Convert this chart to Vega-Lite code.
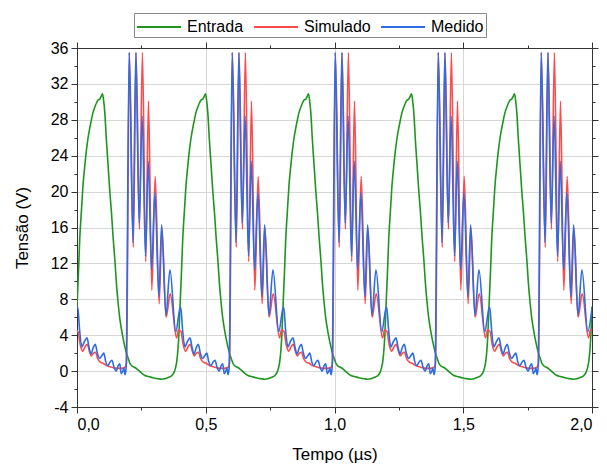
{
"$schema": "https://vega.github.io/schema/vega-lite/v6.json",
"width": 515, "height": 359,
"autosize": {"type": "none"},
"padding": {"left": 77, "top": 48, "right": 15, "bottom": 66},
"background": "white",
"config": {"view": {"stroke": null}, "font": "Liberation Sans",
  "axis": {"labelFont": "Liberation Sans", "titleFont": "Liberation Sans", "labelColor": "#000", "titleColor": "#000", "titleFontWeight": "normal", "domainColor": "#333", "tickColor": "#333", "gridColor": "#d6d6d6", "gridWidth": 1}},
"datasets": {
"entrada": [
{"t":0,"v":7.2},{"t":0.005,"v":10.5},{"t":0.0105,"v":14.6},{"t":0.017,"v":17.8},{"t":0.023,"v":20.6},{"t":0.03,"v":22.8},{"t":0.037,"v":24.7},{"t":0.043,"v":26},{"t":0.049,"v":27},{"t":0.056,"v":28},{"t":0.062,"v":28.8},{"t":0.069,"v":29.4},{"t":0.076,"v":29.9},{"t":0.082,"v":30.2},{"t":0.088,"v":30.3},{"t":0.094,"v":30.6},{"t":0.099,"v":30.9},{"t":0.104,"v":30},{"t":0.108,"v":28.8},{"t":0.114,"v":25.8},{"t":0.121,"v":22.8},{"t":0.127,"v":20.2},{"t":0.134,"v":17.6},{"t":0.14,"v":15},{"t":0.147,"v":12.4},{"t":0.153,"v":9.8},{"t":0.16,"v":7.5},{"t":0.166,"v":5.9},{"t":0.173,"v":4.6},{"t":0.18,"v":3.5},{"t":0.186,"v":2.7},{"t":0.193,"v":1.9},{"t":0.199,"v":1.4},{"t":0.205,"v":0.9},{"t":0.212,"v":0.6},{"t":0.225,"v":0.4},{"t":0.238,"v":0.1},{"t":0.25,"v":-0.2},{"t":0.264,"v":-0.5},{"t":0.277,"v":-0.6},{"t":0.29,"v":-0.7},{"t":0.303,"v":-0.8},{"t":0.315,"v":-0.85},{"t":0.328,"v":-0.9},{"t":0.342,"v":-0.85},{"t":0.355,"v":-0.7},{"t":0.368,"v":-0.5},{"t":0.376,"v":-0.2},{"t":0.382,"v":0.3},{"t":0.387,"v":1},{"t":0.392,"v":2.4},{"t":0.396,"v":4.3},
{"t":0.4,"v":7.2},{"t":0.405,"v":10.5},{"t":0.4105,"v":14.6},{"t":0.417,"v":17.8},{"t":0.423,"v":20.6},{"t":0.43,"v":22.8},{"t":0.437,"v":24.7},{"t":0.443,"v":26},{"t":0.449,"v":27},{"t":0.456,"v":28},{"t":0.462,"v":28.8},{"t":0.469,"v":29.4},{"t":0.476,"v":29.9},{"t":0.482,"v":30.2},{"t":0.488,"v":30.3},{"t":0.494,"v":30.6},{"t":0.499,"v":30.9},{"t":0.504,"v":30},{"t":0.508,"v":28.8},{"t":0.514,"v":25.8},{"t":0.521,"v":22.8},{"t":0.527,"v":20.2},{"t":0.534,"v":17.6},{"t":0.54,"v":15},{"t":0.547,"v":12.4},{"t":0.553,"v":9.8},{"t":0.56,"v":7.5},{"t":0.566,"v":5.9},{"t":0.573,"v":4.6},{"t":0.58,"v":3.5},{"t":0.586,"v":2.7},{"t":0.593,"v":1.9},{"t":0.599,"v":1.4},{"t":0.605,"v":0.9},{"t":0.612,"v":0.6},{"t":0.625,"v":0.4},{"t":0.638,"v":0.1},{"t":0.65,"v":-0.2},{"t":0.664,"v":-0.5},{"t":0.677,"v":-0.6},{"t":0.69,"v":-0.7},{"t":0.703,"v":-0.8},{"t":0.715,"v":-0.85},{"t":0.728,"v":-0.9},{"t":0.742,"v":-0.85},{"t":0.755,"v":-0.7},{"t":0.768,"v":-0.5},{"t":0.776,"v":-0.2},{"t":0.782,"v":0.3},{"t":0.787,"v":1},{"t":0.792,"v":2.4},{"t":0.796,"v":4.3},
{"t":0.8,"v":7.2},{"t":0.805,"v":10.5},{"t":0.8105,"v":14.6},{"t":0.817,"v":17.8},{"t":0.823,"v":20.6},{"t":0.83,"v":22.8},{"t":0.837,"v":24.7},{"t":0.843,"v":26},{"t":0.849,"v":27},{"t":0.856,"v":28},{"t":0.862,"v":28.8},{"t":0.869,"v":29.4},{"t":0.876,"v":29.9},{"t":0.882,"v":30.2},{"t":0.888,"v":30.3},{"t":0.894,"v":30.6},{"t":0.899,"v":30.9},{"t":0.904,"v":30},{"t":0.908,"v":28.8},{"t":0.914,"v":25.8},{"t":0.921,"v":22.8},{"t":0.927,"v":20.2},{"t":0.934,"v":17.6},{"t":0.94,"v":15},{"t":0.947,"v":12.4},{"t":0.953,"v":9.8},{"t":0.96,"v":7.5},{"t":0.966,"v":5.9},{"t":0.973,"v":4.6},{"t":0.98,"v":3.5},{"t":0.986,"v":2.7},{"t":0.993,"v":1.9},{"t":0.999,"v":1.4},{"t":1.005,"v":0.9},{"t":1.012,"v":0.6},{"t":1.025,"v":0.4},{"t":1.038,"v":0.1},{"t":1.05,"v":-0.2},{"t":1.064,"v":-0.5},{"t":1.077,"v":-0.6},{"t":1.09,"v":-0.7},{"t":1.103,"v":-0.8},{"t":1.115,"v":-0.85},{"t":1.128,"v":-0.9},{"t":1.142,"v":-0.85},{"t":1.155,"v":-0.7},{"t":1.168,"v":-0.5},{"t":1.176,"v":-0.2},{"t":1.182,"v":0.3},{"t":1.187,"v":1},{"t":1.192,"v":2.4},{"t":1.196,"v":4.3},
{"t":1.2,"v":7.2},{"t":1.205,"v":10.5},{"t":1.2105,"v":14.6},{"t":1.217,"v":17.8},{"t":1.223,"v":20.6},{"t":1.23,"v":22.8},{"t":1.237,"v":24.7},{"t":1.243,"v":26},{"t":1.249,"v":27},{"t":1.256,"v":28},{"t":1.262,"v":28.8},{"t":1.269,"v":29.4},{"t":1.276,"v":29.9},{"t":1.282,"v":30.2},{"t":1.288,"v":30.3},{"t":1.294,"v":30.6},{"t":1.299,"v":30.9},{"t":1.304,"v":30},{"t":1.308,"v":28.8},{"t":1.314,"v":25.8},{"t":1.321,"v":22.8},{"t":1.327,"v":20.2},{"t":1.334,"v":17.6},{"t":1.34,"v":15},{"t":1.347,"v":12.4},{"t":1.353,"v":9.8},{"t":1.36,"v":7.5},{"t":1.366,"v":5.9},{"t":1.373,"v":4.6},{"t":1.38,"v":3.5},{"t":1.386,"v":2.7},{"t":1.393,"v":1.9},{"t":1.399,"v":1.4},{"t":1.405,"v":0.9},{"t":1.412,"v":0.6},{"t":1.425,"v":0.4},{"t":1.438,"v":0.1},{"t":1.45,"v":-0.2},{"t":1.464,"v":-0.5},{"t":1.477,"v":-0.6},{"t":1.49,"v":-0.7},{"t":1.503,"v":-0.8},{"t":1.515,"v":-0.85},{"t":1.528,"v":-0.9},{"t":1.542,"v":-0.85},{"t":1.555,"v":-0.7},{"t":1.568,"v":-0.5},{"t":1.576,"v":-0.2},{"t":1.582,"v":0.3},{"t":1.587,"v":1},{"t":1.592,"v":2.4},{"t":1.596,"v":4.3},
{"t":1.6,"v":7.2},{"t":1.605,"v":10.5},{"t":1.6105,"v":14.6},{"t":1.617,"v":17.8},{"t":1.623,"v":20.6},{"t":1.63,"v":22.8},{"t":1.637,"v":24.7},{"t":1.643,"v":26},{"t":1.649,"v":27},{"t":1.656,"v":28},{"t":1.662,"v":28.8},{"t":1.669,"v":29.4},{"t":1.676,"v":29.9},{"t":1.682,"v":30.2},{"t":1.688,"v":30.3},{"t":1.694,"v":30.6},{"t":1.699,"v":30.9},{"t":1.704,"v":30},{"t":1.708,"v":28.8},{"t":1.714,"v":25.8},{"t":1.721,"v":22.8},{"t":1.727,"v":20.2},{"t":1.734,"v":17.6},{"t":1.74,"v":15},{"t":1.747,"v":12.4},{"t":1.753,"v":9.8},{"t":1.76,"v":7.5},{"t":1.766,"v":5.9},{"t":1.773,"v":4.6},{"t":1.78,"v":3.5},{"t":1.786,"v":2.7},{"t":1.793,"v":1.9},{"t":1.799,"v":1.4},{"t":1.805,"v":0.9},{"t":1.812,"v":0.6},{"t":1.825,"v":0.4},{"t":1.838,"v":0.1},{"t":1.85,"v":-0.2},{"t":1.864,"v":-0.5},{"t":1.877,"v":-0.6},{"t":1.89,"v":-0.7},{"t":1.903,"v":-0.8},{"t":1.915,"v":-0.85},{"t":1.928,"v":-0.9},{"t":1.942,"v":-0.85},{"t":1.955,"v":-0.7},{"t":1.968,"v":-0.5},{"t":1.976,"v":-0.2},{"t":1.982,"v":0.3},{"t":1.987,"v":1},{"t":1.992,"v":2.4},{"t":1.996,"v":4.3},
{"t":2.0,"v":7.2}
],
"simulado": [
{"t":0,"v":4.5},{"t":0.004,"v":4.4},{"t":0.012,"v":3},{"t":0.022,"v":2.2},{"t":0.031,"v":2.7},{"t":0.04,"v":3},{"t":0.048,"v":2.2},{"t":0.056,"v":1.7},{"t":0.064,"v":2},{"t":0.072,"v":2.1},{"t":0.08,"v":1.4},{"t":0.09,"v":1},{"t":0.1,"v":0.9},{"t":0.11,"v":0.7},{"t":0.125,"v":0.5},{"t":0.14,"v":0.4},{"t":0.155,"v":0.3},{"t":0.17,"v":0.3},{"t":0.185,"v":0.4},{"t":0.192,"v":0.8},{"t":0.2035,"v":35.5},{"t":0.2185,"v":13.8},{"t":0.2295,"v":35.5},{"t":0.2425,"v":15.8},{"t":0.254,"v":35.5},{"t":0.267,"v":12.2},{"t":0.2776,"v":30.1},{"t":0.2905,"v":9},{"t":0.3036,"v":21.7},{"t":0.319,"v":7.5},{"t":0.3296,"v":16},{"t":0.346,"v":6},{"t":0.362,"v":8.6},{"t":0.3865,"v":3.7},{"t":0.394,"v":4.6},
{"t":0.4,"v":4.5},{"t":0.404,"v":4.4},{"t":0.412,"v":3},{"t":0.422,"v":2.2},{"t":0.431,"v":2.7},{"t":0.44,"v":3},{"t":0.448,"v":2.2},{"t":0.456,"v":1.7},{"t":0.464,"v":2},{"t":0.472,"v":2.1},{"t":0.48,"v":1.4},{"t":0.49,"v":1},{"t":0.5,"v":0.9},{"t":0.51,"v":0.7},{"t":0.525,"v":0.5},{"t":0.54,"v":0.4},{"t":0.555,"v":0.3},{"t":0.57,"v":0.3},{"t":0.585,"v":0.4},{"t":0.592,"v":0.8},{"t":0.6035,"v":35.5},{"t":0.6185,"v":13.8},{"t":0.6295,"v":35.5},{"t":0.6425,"v":15.8},{"t":0.654,"v":35.5},{"t":0.667,"v":12.2},{"t":0.6776,"v":30.1},{"t":0.6905,"v":9},{"t":0.7036,"v":21.7},{"t":0.719,"v":7.5},{"t":0.7296,"v":16},{"t":0.746,"v":6},{"t":0.762,"v":8.6},{"t":0.7865,"v":3.7},{"t":0.794,"v":4.6},
{"t":0.8,"v":4.5},{"t":0.804,"v":4.4},{"t":0.812,"v":3},{"t":0.822,"v":2.2},{"t":0.831,"v":2.7},{"t":0.84,"v":3},{"t":0.848,"v":2.2},{"t":0.856,"v":1.7},{"t":0.864,"v":2},{"t":0.872,"v":2.1},{"t":0.88,"v":1.4},{"t":0.89,"v":1},{"t":0.9,"v":0.9},{"t":0.91,"v":0.7},{"t":0.925,"v":0.5},{"t":0.94,"v":0.4},{"t":0.955,"v":0.3},{"t":0.97,"v":0.3},{"t":0.985,"v":0.4},{"t":0.992,"v":0.8},{"t":1.0035,"v":35.5},{"t":1.0185,"v":13.8},{"t":1.0295,"v":35.5},{"t":1.0425,"v":15.8},{"t":1.054,"v":35.5},{"t":1.067,"v":12.2},{"t":1.0776,"v":30.1},{"t":1.0905,"v":9},{"t":1.1036,"v":21.7},{"t":1.119,"v":7.5},{"t":1.1296,"v":16},{"t":1.146,"v":6},{"t":1.162,"v":8.6},{"t":1.1865,"v":3.7},{"t":1.194,"v":4.6},
{"t":1.2,"v":4.5},{"t":1.204,"v":4.4},{"t":1.212,"v":3},{"t":1.222,"v":2.2},{"t":1.231,"v":2.7},{"t":1.24,"v":3},{"t":1.248,"v":2.2},{"t":1.256,"v":1.7},{"t":1.264,"v":2},{"t":1.272,"v":2.1},{"t":1.28,"v":1.4},{"t":1.29,"v":1},{"t":1.3,"v":0.9},{"t":1.31,"v":0.7},{"t":1.325,"v":0.5},{"t":1.34,"v":0.4},{"t":1.355,"v":0.3},{"t":1.37,"v":0.3},{"t":1.385,"v":0.4},{"t":1.392,"v":0.8},{"t":1.4035,"v":35.5},{"t":1.4185,"v":13.8},{"t":1.4295,"v":35.5},{"t":1.4425,"v":15.8},{"t":1.454,"v":35.5},{"t":1.467,"v":12.2},{"t":1.4776,"v":30.1},{"t":1.4905,"v":9},{"t":1.5036,"v":21.7},{"t":1.519,"v":7.5},{"t":1.5296,"v":16},{"t":1.546,"v":6},{"t":1.562,"v":8.6},{"t":1.5865,"v":3.7},{"t":1.594,"v":4.6},
{"t":1.6,"v":4.5},{"t":1.604,"v":4.4},{"t":1.612,"v":3},{"t":1.622,"v":2.2},{"t":1.631,"v":2.7},{"t":1.64,"v":3},{"t":1.648,"v":2.2},{"t":1.656,"v":1.7},{"t":1.664,"v":2},{"t":1.672,"v":2.1},{"t":1.68,"v":1.4},{"t":1.69,"v":1},{"t":1.7,"v":0.9},{"t":1.71,"v":0.7},{"t":1.725,"v":0.5},{"t":1.74,"v":0.4},{"t":1.755,"v":0.3},{"t":1.77,"v":0.3},{"t":1.785,"v":0.4},{"t":1.792,"v":0.8},{"t":1.8035,"v":35.5},{"t":1.8185,"v":13.8},{"t":1.8295,"v":35.5},{"t":1.8425,"v":15.8},{"t":1.854,"v":35.5},{"t":1.867,"v":12.2},{"t":1.8776,"v":30.1},{"t":1.8905,"v":9},{"t":1.9036,"v":21.7},{"t":1.919,"v":7.5},{"t":1.9296,"v":16},{"t":1.946,"v":6},{"t":1.962,"v":8.6},{"t":1.9865,"v":3.7},{"t":1.994,"v":4.6},
{"t":2.0,"v":4.5}
],
"medido": [
{"t":0,"v":7},{"t":0.003,"v":7.1},{"t":0.01,"v":4.6},{"t":0.019,"v":2.7},{"t":0.029,"v":3.3},{"t":0.039,"v":3.7},{"t":0.047,"v":2.6},{"t":0.0545,"v":1.9},{"t":0.063,"v":2.6},{"t":0.071,"v":3},{"t":0.079,"v":2},{"t":0.088,"v":1.4},{"t":0.096,"v":1.7},{"t":0.104,"v":2},{"t":0.112,"v":1},{"t":0.12,"v":0.6},{"t":0.128,"v":1},{"t":0.136,"v":1.2},{"t":0.144,"v":0.4},{"t":0.152,"v":0},{"t":0.16,"v":0.6},{"t":0.166,"v":0.8},{"t":0.172,"v":-0.3},{"t":0.178,"v":0},{"t":0.182,"v":0.3},{"t":0.187,"v":-0.4},{"t":0.191,"v":0.5},{"t":0.2025,"v":35.5},{"t":0.2175,"v":14.3},{"t":0.2285,"v":35.5},{"t":0.2415,"v":16.5},{"t":0.253,"v":28.4},{"t":0.266,"v":12.8},{"t":0.2766,"v":23.4},{"t":0.2897,"v":11.3},{"t":0.3026,"v":19.9},{"t":0.318,"v":8.3},{"t":0.3286,"v":16.3},{"t":0.3454,"v":6.2},{"t":0.361,"v":11.3},{"t":0.3835,"v":4.4},
{"t":0.4,"v":7},{"t":0.403,"v":7.1},{"t":0.41,"v":4.6},{"t":0.419,"v":2.7},{"t":0.429,"v":3.3},{"t":0.439,"v":3.7},{"t":0.447,"v":2.6},{"t":0.4545,"v":1.9},{"t":0.463,"v":2.6},{"t":0.471,"v":3},{"t":0.479,"v":2},{"t":0.488,"v":1.4},{"t":0.496,"v":1.7},{"t":0.504,"v":2},{"t":0.512,"v":1},{"t":0.52,"v":0.6},{"t":0.528,"v":1},{"t":0.536,"v":1.2},{"t":0.544,"v":0.4},{"t":0.552,"v":0},{"t":0.56,"v":0.6},{"t":0.566,"v":0.8},{"t":0.572,"v":-0.3},{"t":0.578,"v":0},{"t":0.582,"v":0.3},{"t":0.587,"v":-0.4},{"t":0.591,"v":0.5},{"t":0.6025,"v":35.5},{"t":0.6175,"v":14.3},{"t":0.6285,"v":35.5},{"t":0.6415,"v":16.5},{"t":0.653,"v":28.4},{"t":0.666,"v":12.8},{"t":0.6766,"v":23.4},{"t":0.6897,"v":11.3},{"t":0.7026,"v":19.9},{"t":0.718,"v":8.3},{"t":0.7286,"v":16.3},{"t":0.7454,"v":6.2},{"t":0.761,"v":11.3},{"t":0.7835,"v":4.4},
{"t":0.8,"v":7},{"t":0.803,"v":7.1},{"t":0.81,"v":4.6},{"t":0.819,"v":2.7},{"t":0.829,"v":3.3},{"t":0.839,"v":3.7},{"t":0.847,"v":2.6},{"t":0.8545,"v":1.9},{"t":0.863,"v":2.6},{"t":0.871,"v":3},{"t":0.879,"v":2},{"t":0.888,"v":1.4},{"t":0.896,"v":1.7},{"t":0.904,"v":2},{"t":0.912,"v":1},{"t":0.92,"v":0.6},{"t":0.928,"v":1},{"t":0.936,"v":1.2},{"t":0.944,"v":0.4},{"t":0.952,"v":0},{"t":0.96,"v":0.6},{"t":0.966,"v":0.8},{"t":0.972,"v":-0.3},{"t":0.978,"v":0},{"t":0.982,"v":0.3},{"t":0.987,"v":-0.4},{"t":0.991,"v":0.5},{"t":1.0025,"v":35.5},{"t":1.0175,"v":14.3},{"t":1.0285,"v":35.5},{"t":1.0415,"v":16.5},{"t":1.053,"v":28.4},{"t":1.066,"v":12.8},{"t":1.0766,"v":23.4},{"t":1.0897,"v":11.3},{"t":1.1026,"v":19.9},{"t":1.118,"v":8.3},{"t":1.1286,"v":16.3},{"t":1.1454,"v":6.2},{"t":1.161,"v":11.3},{"t":1.1835,"v":4.4},
{"t":1.2,"v":7},{"t":1.203,"v":7.1},{"t":1.21,"v":4.6},{"t":1.219,"v":2.7},{"t":1.229,"v":3.3},{"t":1.239,"v":3.7},{"t":1.247,"v":2.6},{"t":1.2545,"v":1.9},{"t":1.263,"v":2.6},{"t":1.271,"v":3},{"t":1.279,"v":2},{"t":1.288,"v":1.4},{"t":1.296,"v":1.7},{"t":1.304,"v":2},{"t":1.312,"v":1},{"t":1.32,"v":0.6},{"t":1.328,"v":1},{"t":1.336,"v":1.2},{"t":1.344,"v":0.4},{"t":1.352,"v":0},{"t":1.36,"v":0.6},{"t":1.366,"v":0.8},{"t":1.372,"v":-0.3},{"t":1.378,"v":0},{"t":1.382,"v":0.3},{"t":1.387,"v":-0.4},{"t":1.391,"v":0.5},{"t":1.4025,"v":35.5},{"t":1.4175,"v":14.3},{"t":1.4285,"v":35.5},{"t":1.4415,"v":16.5},{"t":1.453,"v":28.4},{"t":1.466,"v":12.8},{"t":1.4766,"v":23.4},{"t":1.4897,"v":11.3},{"t":1.5026,"v":19.9},{"t":1.518,"v":8.3},{"t":1.5286,"v":16.3},{"t":1.5454,"v":6.2},{"t":1.561,"v":11.3},{"t":1.5835,"v":4.4},
{"t":1.6,"v":7},{"t":1.603,"v":7.1},{"t":1.61,"v":4.6},{"t":1.619,"v":2.7},{"t":1.629,"v":3.3},{"t":1.639,"v":3.7},{"t":1.647,"v":2.6},{"t":1.6545,"v":1.9},{"t":1.663,"v":2.6},{"t":1.671,"v":3},{"t":1.679,"v":2},{"t":1.688,"v":1.4},{"t":1.696,"v":1.7},{"t":1.704,"v":2},{"t":1.712,"v":1},{"t":1.72,"v":0.6},{"t":1.728,"v":1},{"t":1.736,"v":1.2},{"t":1.744,"v":0.4},{"t":1.752,"v":0},{"t":1.76,"v":0.6},{"t":1.766,"v":0.8},{"t":1.772,"v":-0.3},{"t":1.778,"v":0},{"t":1.782,"v":0.3},{"t":1.787,"v":-0.4},{"t":1.791,"v":0.5},{"t":1.8025,"v":35.5},{"t":1.8175,"v":14.3},{"t":1.8285,"v":35.5},{"t":1.8415,"v":16.5},{"t":1.853,"v":28.4},{"t":1.866,"v":12.8},{"t":1.8766,"v":23.4},{"t":1.8897,"v":11.3},{"t":1.9026,"v":19.9},{"t":1.918,"v":8.3},{"t":1.9286,"v":16.3},{"t":1.9454,"v":6.2},{"t":1.961,"v":11.3},{"t":1.9835,"v":4.4},
{"t":2.0,"v":7}
]
},
"resolve": {"axis": {"x": "independent", "y": "independent"}},
"layer": [
{"data": {"name": "entrada"}, "mark": {"type": "line", "strokeWidth": 1.6, "clip": true, "interpolate": "monotone"},
 "encoding": {
  "x": {"field": "t", "type": "quantitative", "scale": {"domain": [0, 2], "nice": false, "zero": false},
        "axis": {"orient": "bottom", "values": [0, 0.5, 1, 1.5, 2], "grid": true, "tickSize": 6, "labelFontSize": 16, "labelPadding": 3, "labelExpr": "replace(format(datum.value, '.1f'), '.', ',')", "title": "Tempo (µs)", "titleFontSize": 17, "titlePadding": 14}},
  "y": {"field": "v", "type": "quantitative", "scale": {"domain": [-4, 36], "nice": false, "zero": false},
        "axis": {"orient": "left", "values": [-4, 0, 4, 8, 12, 16, 20, 24, 28, 32, 36], "grid": true, "tickSize": 6, "labelFontSize": 16, "labelPadding": 3, "labelExpr": "replace(datum.label, '−', '-')", "title": "Tensão (V)", "titleFontSize": 17, "titlePadding": 19}},
  "color": {"datum": "Entrada", "type": "nominal",
            "scale": {"domain": ["Entrada", "Simulado", "Medido"], "range": ["#1e961e", "#ff4a4a", "#2f6be3"]},
            "legend": {"orient": "none", "legendX": 57, "legendY": -35, "direction": "horizontal", "title": null, "symbolType": "M-1,0H3", "symbolSize": 484, "symbolStrokeWidth": 2, "labelFontSize": 16, "labelFont": "Liberation Sans", "labelColor": "#000", "labelOffset": 27, "columnPadding": 6, "padding": 2, "strokeColor": "#888", "fillColor": "white"}}
 }},
{"data": {"name": "simulado"}, "mark": {"type": "line", "strokeWidth": 1.6, "clip": true, "interpolate": "monotone"},
 "encoding": {
  "x": {"field": "t", "type": "quantitative", "axis": null},
  "y": {"field": "v", "type": "quantitative", "axis": null},
  "color": {"datum": "Simulado", "type": "nominal"}
 }},
{"data": {"name": "medido"}, "mark": {"type": "line", "strokeWidth": 1.6, "clip": true, "interpolate": "monotone"},
 "encoding": {
  "x": {"field": "t", "type": "quantitative", "axis": null},
  "y": {"field": "v", "type": "quantitative", "axis": null},
  "color": {"datum": "Medido", "type": "nominal"}
 }},
{"data": {"name": "entrada"}, "mark": {"type": "point", "opacity": 0},
 "encoding": {
  "x": {"field": "t", "type": "quantitative", "axis": {"orient": "top", "values": [0, 0.5, 1, 1.5, 2], "labels": false, "grid": false, "tickSize": 6, "title": null}},
  "y": {"field": "v", "type": "quantitative", "axis": {"orient": "right", "values": [-4, 0, 4, 8, 12, 16, 20, 24, 28, 32, 36], "labels": false, "grid": false, "tickSize": 6, "title": null}}
 }},
{"data": {"name": "entrada"}, "mark": {"type": "point", "opacity": 0},
 "encoding": {
  "x": {"field": "t", "type": "quantitative", "axis": {"orient": "bottom", "values": [0.25, 0.75, 1.25, 1.75], "labels": false, "grid": false, "domain": false, "tickSize": 3, "title": null}},
  "y": {"field": "v", "type": "quantitative", "axis": {"orient": "left", "values": [-2, 2, 6, 10, 14, 18, 22, 26, 30, 34], "labels": false, "grid": false, "domain": false, "tickSize": 3, "title": null}}
 }},
{"data": {"name": "entrada"}, "mark": {"type": "point", "opacity": 0},
 "encoding": {
  "x": {"field": "t", "type": "quantitative", "axis": {"orient": "top", "values": [0.25, 0.75, 1.25, 1.75], "labels": false, "grid": false, "domain": false, "tickSize": 3, "title": null}},
  "y": {"field": "v", "type": "quantitative", "axis": {"orient": "right", "values": [-2, 2, 6, 10, 14, 18, 22, 26, 30, 34], "labels": false, "grid": false, "domain": false, "tickSize": 3, "title": null}}
 }}
]
}
